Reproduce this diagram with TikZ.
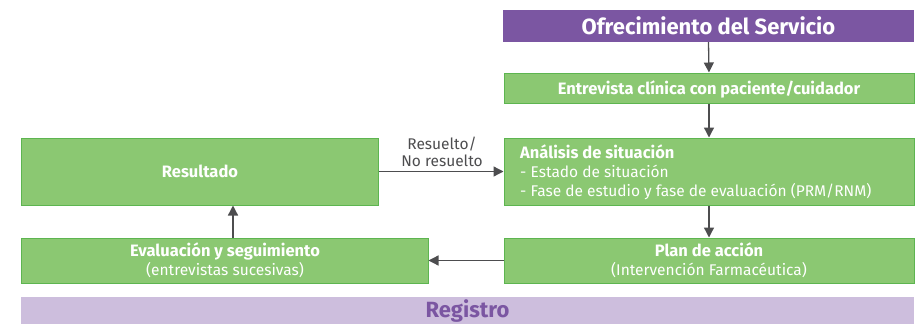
\documentclass[tikz,border=0pt]{standalone}
\usepackage{fontspec}
\setmainfont{Fira Sans}
\usetikzlibrary{arrows.meta,positioning}
\definecolor{hdpurple}{HTML}{7B56A2}
\definecolor{lightpurple}{HTML}{CDBEDD}
\definecolor{txtpurple}{HTML}{7B56A2}
\definecolor{boxgreen}{HTML}{8BC872}
\definecolor{boxborder}{HTML}{5DB550}
\definecolor{arrowgray}{HTML}{4D4D4F}
\tikzset{
  x=1pt, y=-1pt,
  greenbox/.style={draw=boxborder, line width=1pt, fill=boxgreen, inner sep=0pt},
  wtxt/.style={text=white, inner sep=0pt, anchor=base},
  boldt/.style={font=\fontsize{16.5}{19}\selectfont\bfseries},
  regt/.style={font=\fontsize{15.5}{18}\selectfont},
  arr/.style={draw=arrowgray, line width=1.3pt, -{Triangle[length=10pt,width=10pt]}},
  lbl/.style={text=arrowgray, inner sep=0pt, anchor=base, font=\fontsize{15.5}{18}\selectfont},
}
\begin{document}
\begin{tikzpicture}
\useasboundingbox (0,0) rectangle (919,324);
% boxes
\node[fill=hdpurple, minimum width=411pt, minimum height=32pt, inner sep=0pt] (ofr) at (708.5,26) {};
\node[wtxt, font=\fontsize{22}{25}\selectfont\bfseries] (ofrtxt) at (708.5,34.5) {Ofrecimiento del Servicio};
\node[greenbox, minimum width=410pt, minimum height=30pt] (ent) at (709,88) {};
\node[wtxt, boldt] (enttxt) at (709,94) {Entrevista clínica con paciente/cuidador};
\node[greenbox, minimum width=410pt, minimum height=67pt] (ana) at (709,171.5) {};
\node[wtxt, boldt, anchor=base west] (ana1) at (520,158) {Análisis de situación};
\node[wtxt, regt, anchor=base west] (ana2) at (520,177) {- Estado de situación};
\node[wtxt, regt, anchor=base west] (ana3) at (520,196) {- Fase de estudio y fase de evaluación (PRM/RNM)};
\node[greenbox, minimum width=357pt, minimum height=67pt] (res) at (199.5,171.5) {};
\node[wtxt, boldt] (restxt) at (200,177) {Resultado};
\node[greenbox, minimum width=407pt, minimum height=45pt] (eva) at (224.5,260.5) {};
\node[wtxt, boldt] (eva1) at (225,256) {Evaluación y seguimiento};
\node[wtxt, regt] (eva2) at (225,275) {(entrevistas sucesivas)};
\node[greenbox, minimum width=410pt, minimum height=45pt] (plan) at (709,260.5) {};
\node[wtxt, boldt] (plan1) at (709,256) {Plan de acción};
\node[wtxt, regt] (plan2) at (709,275) {(Intervención Farmacéutica)};
\node[fill=lightpurple, minimum width=893pt, minimum height=30pt, inner sep=0pt, anchor=north] (reg) at (467.5,297) {};
\node[text=txtpurple, font=\fontsize{22}{25}\selectfont\bfseries, inner sep=0pt, anchor=base] (regtxt) at (467.5,317.5) {Registro};
% connectors
\draw[arr] (ofr.south) -- (ent.north);
\draw[arr] (ent.south) -- (ana.north);
\draw[arr] (ana.south) -- (plan.north);
\draw[arr] (plan.west) -- (eva.east);
\draw[arr] (eva.north -| 233,0) -- (res.south -| 233,0);
\draw[arr] (res.east) -- (ana.west);
\node[lbl] (l1) at (442,149) {Resuelto/};
\node[lbl] (l2) at (442,166) {No resuelto};
\end{tikzpicture}
\end{document}
